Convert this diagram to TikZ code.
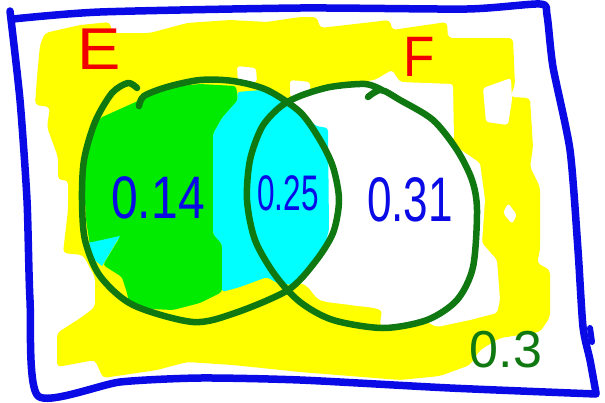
\documentclass[tikz,border=0pt]{standalone}
\usepackage{fontspec}
\setmainfont{Liberation Sans}
\definecolor{penblue}{RGB}{10,10,230}
\definecolor{pengreen}{RGB}{16,120,16}
\definecolor{fillgreen}{RGB}{0,235,0}
\definecolor{fillcyan}{RGB}{0,255,255}
\definecolor{hiyellow}{RGB}{255,255,0}
\definecolor{penred}{RGB}{240,0,0}
\tikzset{
  pen/.style={line width=6.5, draw=pengreen},
  gap/.style={fill=white, rounded corners=3},
  lab/.style={inner sep=0pt},
}
\begin{document}
\begin{tikzpicture}[x=1pt, y=-1pt, line join=round, line cap=round]
	\useasboundingbox (0,0) rectangle (605,402);
	\fill[hiyellow, rounded corners=4] (40,45) -- (45,33) -- (80,25) -- (110,22) -- (112,33) -- (150,33) -- (187,23) -- (230,20) -- (267,22) -- (300,17) -- (317,17) -- (320,28) -- (390,20) -- (392,30) -- (447,22) -- (448,38) -- (513,38) -- (515,85) -- (510,97) -- (530,98) -- (533,147) -- (530,167) -- (540,187) -- (540,250) -- (537,263) -- (550,270) -- (550,317) -- (540,332) -- (500,338) -- (480,350) -- (470,365) -- (440,376) -- (400,380) -- (300,372) -- (233,365) -- (187,362) -- (157,370) -- (103,378) -- (95,360) -- (57,367) -- (57,333) -- (82,317) -- (95,307) -- (95,277) -- (83,255) -- (63,253) -- (68,210) -- (68,180) -- (58,180) -- (58,157) -- (47,127) -- (50,107) -- (35,105) -- (37,77) -- cycle;
	\fill[gap] (237,66) -- (256,68) -- (257,82) -- (238,84) -- cycle;
	\fill[gap] (290,80) -- (310,82) -- (310,97) -- (290,97) -- cycle;
	\fill[gap] (300,97) -- (312,93) -- (335,92) -- (352,83) -- (375,80) -- (392,70) -- (400,82) -- (453,84) -- (454,140) -- (433,120) -- (400,100) -- (365,84) -- (330,87) -- cycle;
	\fill[gap] (483,88) -- (511,78) -- (512,100) -- (508,125) -- (486,122) -- cycle;
	\fill[gap] (508,203) -- (517,215) -- (512,224) -- (503,213) -- cycle;
	\fill[gap] (458,148) -- (480,163) -- (485,200) -- (482,243) -- (497,260) -- (500,300) -- (497,313) -- (470,320) -- (437,327) -- (427,322) -- (457,302) -- (473,268) -- (477,210) -- (472,180) -- cycle;
	\fill[white] plot[smooth cycle] coordinates {(300,96) (330,87) (365,84) (400,100) (433,120) (457,150) (472,180) (477,210) (473,267) (457,300) (427,320) (383,326) (380,310) (350,305) (320,300) (305,285) (275,275) (255,240) (247,200) (250,160) (262,127) (280,107)};
	\fill[fillgreen, rounded corners=3] (100,118) -- (140,100) -- (150,92) -- (170,87) -- (200,84) -- (236,86) -- (238,100) -- (222,118) -- (213,134) -- (213,234) -- (222,244) -- (222,292) -- (200,303) -- (173,310) -- (130,308) -- (127,293) -- (122,277) -- (103,265) -- (120,237) -- (90,245) -- (86,220) -- (84,180) -- (88,150) -- (95,130) -- cycle;
	\fill[fillcyan] (88,243) -- (120,236) -- (102,266) -- (92,258) -- cycle;
	\fill[fillcyan, rounded corners=3] (237,92) -- (262,90) -- (285,100) -- (300,112) -- (316,126) -- (328,128) -- (329,230) -- (322,255) -- (300,277) -- (293,285) -- (277,283) -- (267,277) -- (240,287) -- (222,292) -- (222,244) -- (213,234) -- (213,134) -- (222,118) -- (238,100) -- cycle;
	\draw[pen] plot[smooth] coordinates {(139,106) (144,96) (167,87) (200,80) (233,81) (267,90) (300,112) (320,140) (333,167) (339,200) (333,233) (315,262) (288,290) (235,313) (193,322) (133,305) (100,276) (85,240) (82,200) (84,160) (95,122) (112,93) (128,83) (137,88)};
	\draw[pen] plot[smooth] coordinates {(368,97) (381,90) (400,100) (433,120) (457,150) (472,180) (477,210) (473,267) (457,300) (427,320) (383,328) (333,320) (300,302) (275,275) (255,240) (247,200) (250,160) (262,127) (280,107) (300,96) (330,87) (365,84) (382,90)};
	\draw[penblue, line width=7.5] plot[smooth, tension=0.4] coordinates {(13,19) (100,12) (300,8) (467,9) (540,4) (547,15) (553,67) (570,150) (578,250) (583,327) (590,360) (596,393)};
	\draw[penblue, line width=7.5] plot[smooth, tension=0.4] coordinates {(596,394) (450,388) (300,380) (200,378) (120,382) (38,396) (30,300) (27,200) (20,100) (10,11)};
	\draw[penblue, line width=6] (590,328) -- (592,342);
	\node[lab, text=penred, font=\fontsize{59}{59}\selectfont] (labE) at (99,49) {\scalebox{1.1}[1]{E}};
	\node[lab, text=penred, font=\fontsize{57}{57}\selectfont] (labF) at (419,57) {\scalebox{0.9}[1]{F}};
	\node[lab, text=penblue, font=\fontsize{60}{60}\selectfont] (pE) at (158,198) {\scalebox{0.8}[1]{0.14}};
	\node[lab, text=penblue, font=\fontsize{50}{50}\selectfont] (pEF) at (288,193) {\scalebox{0.63}[1]{0.25}};
	\node[lab, text=penblue, font=\fontsize{63}{63}\selectfont] (pF) at (410,200) {\scalebox{0.7}[1]{0.31}};
	\node[lab, text=pengreen, font=\fontsize{52}{52}\selectfont] (pOut) at (506,350) {0.3};
\end{tikzpicture}
\end{document}
